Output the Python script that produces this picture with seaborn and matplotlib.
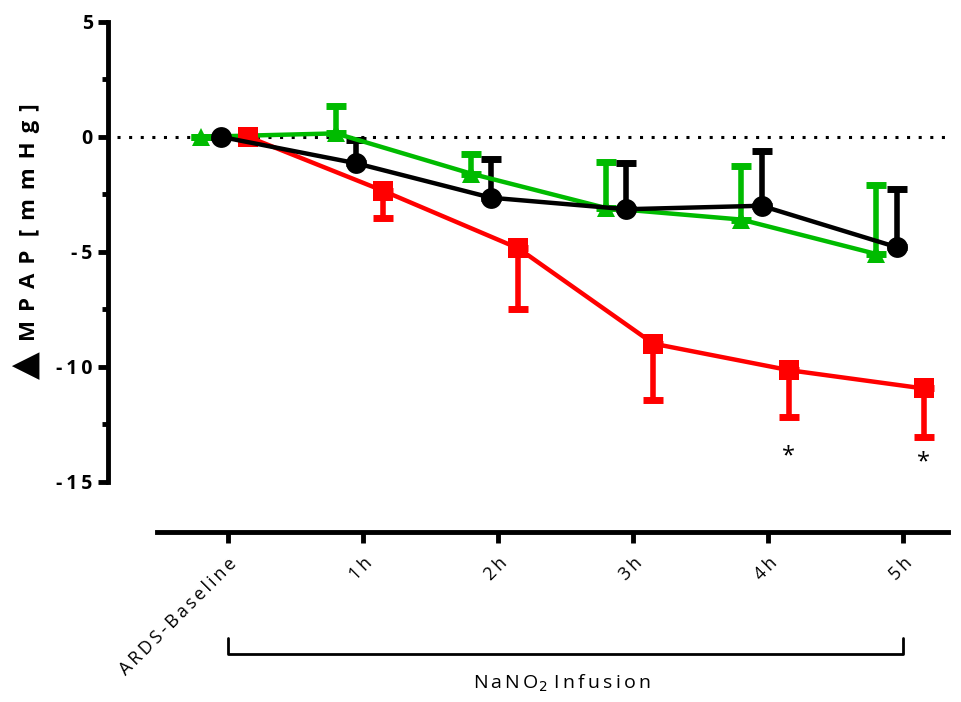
import numpy as np
import pandas as pd
import seaborn as sns
import matplotlib.pyplot as plt
from matplotlib.ticker import MultipleLocator

categories = ['ARDS-Baseline', '1h', '2h', '3h', '4h', '5h']

green_mean = [0.0, 0.15, -1.6, -3.1, -3.6, -5.1]
green_err = [0.0, 1.2, 0.85, 2.0, 2.35, 3.0]

black_mean = [0.0, -1.15, -2.65, -3.15, -3.0, -4.8]
black_err = [0.0, 1.0, 1.7, 2.0, 2.4, 2.55]

red_mean = [0.0, -2.35, -4.85, -9.0, -10.15, -10.95]
red_err = [0.0, 1.2, 2.65, 2.45, 2.05, 2.1]

yticks = [5, 0, -5, -10, -15]
star_idx = [4, 5]
star_y = [-13.9, -14.15]

sns.set_style('ticks')
plt.rcParams['font.family'] = ['Open Sans', 'DejaVu Sans']
plt.rcParams['axes.edgecolor'] = 'black'
plt.rcParams['xtick.color'] = 'black'
plt.rcParams['ytick.color'] = 'black'
plt.rcParams['text.color'] = 'black'


def spaced(s, sep='\u2009'):
    return sep.join(s)


x = np.arange(len(categories))
df = pd.DataFrame({
    'x': np.concatenate([x - 0.2, x - 0.05, x + 0.15]),
    'y': green_mean + black_mean + red_mean,
    'group': ['green'] * 6 + ['black'] * 6 + ['red'] * 6,
})
colors = {'green': '#00bb00', 'black': '#000000', 'red': '#ff0000'}
markers = {'green': '^', 'black': 'o', 'red': 's'}
errs = {'green': (green_err, 'up'), 'black': (black_err, 'up'), 'red': (red_err, 'down')}

fig = plt.figure(figsize=(9.61, 7.02), dpi=100)
ax = fig.add_axes([0.163, 0.242, 0.8235, 0.7366])

ax.plot([-0.82, 5.33], [0, 0], color='black', lw=2.2,
        linestyle=(0, (1, 2.8)), clip_on=False, zorder=1)

for g in ['green', 'red', 'black']:
    sub = df[df.group == g]
    e, side = errs[g]
    yerr = [np.zeros(6), e] if side == 'up' else [e, np.zeros(6)]
    ax.errorbar(sub.x, sub.y, yerr=yerr, fmt='none', ecolor=colors[g],
                elinewidth=4, capsize=7, capthick=5, zorder=2, clip_on=False)
    sns.lineplot(data=sub, x='x', y='y', color=colors[g], marker=markers[g],
                 markersize=15 if g != 'green' else 13, markeredgewidth=0,
                 lw=3.2, ax=ax, zorder=3, clip_on=False, legend=False)

for i, sy in zip(star_idx, star_y):
    ax.text(x[i] + 0.15, sy, '*', ha='center', va='center', fontsize=17)

sns.despine(ax=ax)
ax.spines['left'].set_position(('outward', 35))
ax.spines['left'].set_bounds(-15, 5)
ax.spines['left'].set_linewidth(3.5)
ax.spines['bottom'].set_linewidth(3.5)
ax.tick_params(axis='y', which='major', length=7, width=3.5, pad=4)
ax.tick_params(axis='y', which='minor', length=4, width=3.5)
ax.tick_params(axis='x', which='major', length=8, width=3.5, pad=8)

ax.set_xlim(-0.526, 5.33)
ax.set_ylim(-17.2, 5.3)
ax.set_xticks(x)
ax.set_xticklabels([spaced(c) for c in categories], rotation=45, ha='right',
                   rotation_mode='anchor', fontsize=13)
ax.set_yticks(yticks)
ax.set_yticklabels([spaced(str(t)) for t in yticks])
for t in ax.get_yticklabels():
    t.set_fontweight('bold')
    t.set_fontsize(14)
ax.yaxis.set_minor_locator(MultipleLocator(2.5))
ax.set_xlabel('')
ax.set_ylabel('')

# bracket for infusion period
ax.plot([0, 0, 5, 5], [-21.8, -22.5, -22.5, -21.8], color='black', lw=2,
        clip_on=False)
ax.text(2.47, -23.8, 'N\u2009a\u2009N\u2009O$_2$\u2009\u2009I\u2009n\u2009f\u2009u\u2009s\u2009i\u2009o\u2009n',
        ha='center', va='center', fontsize=14)

fig.text(0.027, 0.48, '\u25B2', rotation=90, ha='center', va='center',
         fontsize=26, family=['DejaVu Sans'])
fig.text(0.031, 0.684, spaced('MPAP', '\u2009\u2009') + '\u2009\u2009\u2009' + spaced('[mmHg]', '\u2009\u2009'),
         rotation=90, ha='center', va='center', fontsize=16, fontweight='bold')

fig.savefig('out.png', dpi=100)
